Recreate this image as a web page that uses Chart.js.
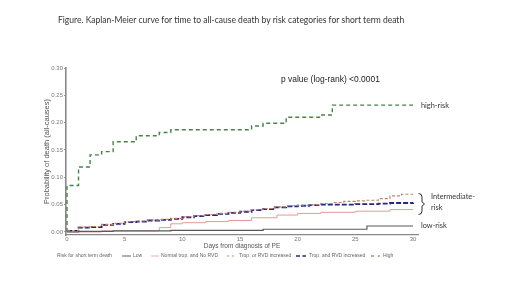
<!DOCTYPE html>
<html>
<head>
<meta charset="utf-8">
<script src="https://cdn.jsdelivr.net/npm/chart.js@4/dist/chart.umd.min.js"></script>
<style>
html,body{margin:0;padding:0;background:#fff;}
#wrap{width:520px;height:292px;position:relative;}
</style>
</head>
<body>
<div id="wrap"><canvas id="c" width="520" height="292"></canvas></div>
<script>
// ---- Data ----
const lowDays  = [0, 1, 4, 9, 17, 26, 30];
const lowProb  = [0, 0.001, 0.002, 0.003, 0.005, 0.011, 0.011];

const normDays = [0, 3, 8, 9, 10, 12, 14, 16, 18.2, 20, 22, 25, 28, 30];
const normProb = [0, 0.002, 0.008, 0.015, 0.017, 0.019, 0.021, 0.026, 0.031, 0.034, 0.036, 0.038, 0.041, 0.041];

const orDays   = [0, 1, 2, 3, 4, 5, 6, 7, 8, 9, 10, 11, 12, 13, 14, 15, 16, 17, 18, 19, 20, 21, 22, 23, 24, 25, 26, 27, 28, 29, 30];
const orProb   = [0.002, 0.009, 0.010, 0.014, 0.016, 0.019, 0.020, 0.022, 0.023, 0.025, 0.028, 0.030, 0.032, 0.034, 0.036, 0.038, 0.041, 0.043, 0.046, 0.048, 0.049, 0.050, 0.052, 0.054, 0.056, 0.057, 0.058, 0.061, 0.066, 0.069, 0.069];

const andDays  = [0, 1, 2, 3, 4, 5, 6, 7, 8, 9, 10, 11, 12, 13, 14, 15, 16, 17, 18, 19, 20, 21, 22, 23, 24, 25, 26, 27, 28, 29, 30];
const andProb  = [0.002, 0.008, 0.009, 0.013, 0.015, 0.018, 0.019, 0.021, 0.022, 0.024, 0.027, 0.029, 0.031, 0.033, 0.035, 0.037, 0.040, 0.042, 0.045, 0.047, 0.048, 0.049, 0.050, 0.050, 0.050, 0.051, 0.051, 0.052, 0.053, 0.053, 0.054];

const highDays = [0, 0, 1, 2, 3, 4, 6, 8, 9, 16, 17, 19, 22, 23, 30];
const highProb = [0, 0.085, 0.119, 0.141, 0.147, 0.165, 0.176, 0.182, 0.187, 0.194, 0.199, 0.210, 0.214, 0.232, 0.232];

const seriesNames = ['Low', 'Normal trop. and No RVD', 'Trop. or RVD increased', 'Trop. and RVD increased', 'High'];
const xTicks = [0, 5, 10, 15, 20, 25, 30];
const yTicks = [0, 0.05, 0.10, 0.15, 0.20, 0.25, 0.30];

const titleText = 'Figure. Kaplan-Meier curve for time to all-cause death by risk categories for short term death';
const pText = 'p value (log-rank) <0.0001';
const legendTitle = 'Risk for short term death';

function pts(xs, ys){ return xs.map((x,i)=>({x:x, y:ys[i]})); }

const styles = [
  {color:'#5a5a5a', width:1.2, dash:[]},
  {color:'#e39a9a', width:1, dash:[]},
  {color:'#c4826a', width:1.1, dash:[3,2]},
  {color:'#26267e', width:1.8, dash:[5,2]},
  {color:'#468446', width:1.4, dash:[4,3]}
];
const allData = [pts(lowDays,lowProb), pts(normDays,normProb), pts(orDays,orProb), pts(andDays,andProb), pts(highDays,highProb)];

const datasets = allData.map((d,i)=>({
  label: seriesNames[i],
  data: d,
  borderColor: styles[i].color,
  borderWidth: styles[i].width,
  borderDash: styles[i].dash,
  stepped: true,
  pointRadius: 0,
  fill: false,
  tension: 0
}));

function fitSize(ctx, text, family, width, weight){
  ctx.font = (weight||'') + ' 20px ' + family;
  return 20 * width / ctx.measureText(text).width;
}

const annot = {
  id: 'annot',
  afterDraw(chart){
    const ctx = chart.ctx;
    ctx.save();
    ctx.textBaseline = 'middle';
    ctx.textAlign = 'left';
    // title
    let s = fitSize(ctx, titleText, 'Lato', 347);
    ctx.font = s + 'px Lato'; ctx.fillStyle = '#333';
    ctx.fillText(titleText, 58, 20);
    // p value
    s = fitSize(ctx, pText, '"Liberation Sans"', 99);
    ctx.font = s + 'px "Liberation Sans"'; ctx.fillStyle = '#222';
    ctx.fillText(pText, 281, 80);
    // side labels
    ctx.fillStyle = '#333';
    s = fitSize(ctx, 'Intermediate-', 'Lato', 44);
    ctx.font = s + 'px Lato';
    ctx.fillText('high-risk', 421, 106);
    ctx.fillText('Intermediate-', 431, 197);
    ctx.fillText('risk', 431, 208);
    ctx.fillText('low-risk', 421, 226);
    // bracket
    ctx.strokeStyle = '#333'; ctx.lineWidth = 1;
    ctx.beginPath();
    ctx.moveTo(418.5, 193.5);
    ctx.quadraticCurveTo(422, 193.5, 422, 197);
    ctx.lineTo(422, 202);
    ctx.lineTo(424.5, 204);
    ctx.lineTo(422, 206);
    ctx.lineTo(422, 211);
    ctx.quadraticCurveTo(422, 214.5, 418.5, 214.5);
    ctx.stroke();
    // legend
    const ly = 256;
    s = fitSize(ctx, legendTitle, '"Liberation Sans"', 55);
    ctx.font = s + 'px "Liberation Sans"'; ctx.fillStyle = '#666';
    ctx.fillText(legendTitle, 57, ly);
    const lx = [[122,131,133],[151,159,161],[227,236,239],[296,306,309],[371,380,383]];
    chart.data.datasets.forEach((ds,i)=>{
      ctx.beginPath();
      ctx.setLineDash(ds.borderDash.length ? [ds.borderDash[0]*0.8, ds.borderDash[1]*1.2] : []);
      ctx.strokeStyle = ds.borderColor;
      ctx.lineWidth = Math.max(0.8, ds.borderWidth*0.8);
      ctx.moveTo(lx[i][0], ly); ctx.lineTo(lx[i][1], ly); ctx.stroke();
      ctx.setLineDash([]);
      ctx.fillStyle = '#666';
      ctx.fillText(ds.label, lx[i][2], ly);
    });
    ctx.restore();
  }
};

new Chart(document.getElementById('c'), {
  type: 'line',
  data: { datasets },
  plugins: [annot],
  options: {
    responsive: false,
    animation: false,
    events: [],
    layout: { padding: { left: 42, right: 102, top: 68, bottom: 42 } },
    plugins: { legend: { display: false }, tooltip: { enabled: false }, title: { display: false } },
    scales: {
      x: {
        type: 'linear',
        min: -0.087, max: 30.43,
        afterBuildTicks: (sc) => { sc.ticks = xTicks.map(v=>({value:v})); },
        afterFit: (sc) => { sc.height = 15; },
        grid: { display: true, drawOnChartArea: false, drawTicks: false, color: '#999' },
        border: { display: true, color: '#888', width: 1.2 },
        ticks: { padding: 1, color: '#777', font: { size: 6, family: '"Liberation Sans"' }, maxRotation: 0, autoSkip: false,
                 callback: (v) => String(v) },
        title: { display: true, text: 'Days from diagnosis of PE', color: '#555', font: { size: 6.5, family: '"Liberation Sans"' }, padding: 0 }
      },
      y: {
        type: 'linear',
        min: -0.0055, max: 0.30,
        afterBuildTicks: (sc) => { sc.ticks = yTicks.map(v=>({value:v})); },
        afterFit: (sc) => { sc.width = 24; },
        grid: { display: true, drawOnChartArea: false, drawTicks: true, tickLength: 2, color: '#999' },
        border: { display: true, color: '#888', width: 1.6 },
        ticks: { padding: 1, color: '#777', font: { size: 6, family: '"Liberation Sans"' }, autoSkip: false,
                 callback: (v) => v.toFixed(2) },
        title: { display: true, text: 'Probability of death (all-causes)', color: '#555', font: { size: 7.5, family: '"Liberation Sans"' }, padding: 0 }
      }
    }
  }
});
</script>
</body>
</html>
